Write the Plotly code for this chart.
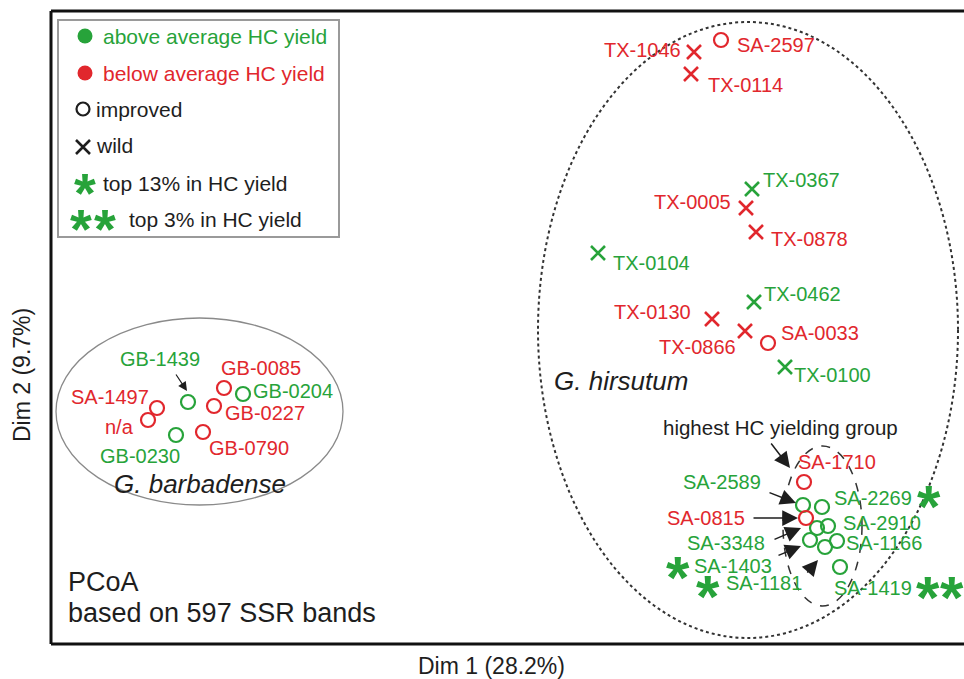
import plotly.graph_objects as go

# ---------------- data (arbitrary PCoA plot units) ----------------
names = ["TX-1046", "SA-2597", "TX-0114",
         "TX-0367", "TX-0005", "TX-0878", "TX-0104", "TX-0462", "TX-0130", "TX-0866", "SA-0033", "TX-0100",
         "GB-1439", "GB-0085", "GB-0204", "GB-0227", "SA-1497", "n/a", "GB-0230", "GB-0790",
         "SA-1710", "SA-2589", "SA-2269", "SA-0815", "SA-2910", "SA-3348", "SA-1166", "SA-1403", "SA-1181", "SA-1419"]
dim1 = [694, 721, 691,
        752, 746, 756, 598, 754, 712, 745, 768, 785,
        188, 224, 243, 214, 157, 148, 176, 203,
        804, 803, 822, 806, 828, 817, 837, 810, 825, 840]
dim2 = [52, 40, 74,
        189, 208, 232, 253, 302, 319, 331, 343, 367,
        402, 388, 394, 406, 408, 420, 435, 432,
        482, 505, 507, 518, 526, 528, 541, 540, 547, 567]
hc_yield = ["below", "below", "below",
            "above", "below", "below", "above", "above", "below", "below", "below", "above",
            "above", "below", "above", "below", "below", "below", "above", "below",
            "below", "above", "above", "below", "above", "above", "above", "above", "above", "above"]
status = ["wild", "improved", "wild",
          "wild", "wild", "wild", "wild", "wild", "wild", "wild", "improved", "wild",
          "improved", "improved", "improved", "improved", "improved", "improved", "improved", "improved",
          "improved", "improved", "improved", "improved", "improved", "improved", "improved", "improved", "improved", "improved"]
stars = {"SA-2269": 1, "SA-1403": 1, "SA-1181": 1, "SA-1419": 2}

legend_items = ["above average HC yield", "below average HC yield", "improved", "wild",
                "top 13% in HC yield", "top 3% in HC yield"]

# ---------------- styles / layout helpers ----------------
GREEN = "#27a33a"
RED = "#e1272d"
BLACK = "#1e1e1e"
FONT = "Liberation Sans, Arial, sans-serif"
W, H = 964, 679
X0, X1, Y0, Y1 = 51, 964, 11, 644   # plot frame in page pixels

# label offsets (pixels from the point) and anchor
label_pos = {
    "TX-1046": (-11, -2, "right"), "SA-2597": (14, 5, "left"), "TX-0114": (15, 11, "left"),
    "TX-0367": (9, -9, "left"), "TX-0005": (-13, -6, "right"), "TX-0878": (13, 7, "left"),
    "TX-0104": (13, 10, "left"), "TX-0462": (8, -8, "left"), "TX-0130": (-19, -7, "right"),
    "TX-0866": (-7, 16, "right"), "SA-0033": (11, -10, "left"), "TX-0100": (7, 8, "left"),
    "GB-1439": (-28, -43, "center"), "GB-0085": (-5, -20, "left"), "GB-0204": (8, -3, "left"),
    "GB-0227": (9, 7, "left"), "SA-1497": (-6, -11, "right"), "n/a": (-12, 7, "right"),
    "GB-0230": (-36, 21, "center"), "GB-0790": (4, 16, "left"),
    "SA-1710": (-8, -20, "left"), "SA-2589": (-40, -23, "right"), "SA-2269": (10, -9, "left"),
    "SA-0815": (-59, 0, "right"), "SA-2910": (13, -3, "left"), "SA-3348": (-50, 15, "right"),
    "SA-1166": (7, 2, "left"), "SA-1403": (-118, 26, "left"), "SA-1181": (-101, 36, "left"),
    "SA-1419": (-8, 21, "left"),
}
# star offsets (pixels from the point), spacing for double stars
star_pos = {"SA-2269": (107, -10), "SA-1403": (-132, 28), "SA-1181": (-117, 40), "SA-1419": (88, 21)}
STAR_GAP = 24
STAR_SIZE = 60
STAR_SHIFT = -9

# arrows: target name, head offset from point, tail offset from head, width, size
arrows = [("GB-1439", (-1, -11), (-12, -18), 1.2, 1.5),
          ("SA-1710", (-14, -14), (-20, -26), 1.5, 2.1),
          ("SA-2589", (-7, -2), (-28, -11), 1.5, 2.1),
          ("SA-0815", (-8, 0), (-46, 0), 1.5, 2.1),
          ("SA-3348", (-16, 0), (-28, 12), 1.5, 2.1),
          ("SA-1403", (-9, 6), (-24, 10), 1.5, 2.1),
          ("SA-1181", (-7, 13), (-12, 14), 1.5, 2.1)]

color_of = {"above": GREEN, "below": RED}
symbol_of = {"wild": "x-thin-open", "improved": "circle-open"}
size_of = {"wild": 14, "improved": 14}
width_of = {"wild": 2.6, "improved": 2.2}

fig = go.Figure()

for st in ["improved", "wild"]:
    for yc in ["above", "below"]:
        idx = [i for i in range(len(names)) if status[i] == st and hc_yield[i] == yc]
        if not idx:
            continue
        fig.add_trace(go.Scatter(
            x=[dim1[i] for i in idx], y=[dim2[i] for i in idx],
            mode="markers", showlegend=False, hoverinfo="text",
            text=[names[i] for i in idx],
            marker=dict(symbol=symbol_of[st], size=size_of[st], color=color_of[yc],
                        line=dict(width=width_of[st], color=color_of[yc]))))

annotations = []
pt = {n: (dim1[i], dim2[i]) for i, n in enumerate(names)}
for i, n in enumerate(names):
    dx, dy, anc = label_pos[n]
    annotations.append(dict(x=dim1[i], y=dim2[i], xshift=dx, yshift=-dy, text=n, showarrow=False,
                            xanchor=anc, yanchor="middle",
                            font=dict(family=FONT, size=20, color=color_of[hc_yield[i]])))

# stars
for n, k in stars.items():
    sx, sy = star_pos[n]
    for j in range(k):
        annotations.append(dict(x=pt[n][0], y=pt[n][1], xshift=sx + j * STAR_GAP, yshift=-sy + STAR_SHIFT,
                                text="<b>*</b>", showarrow=False, xanchor="center", yanchor="middle",
                                font=dict(family=FONT, size=STAR_SIZE, color=GREEN)))

# arrows
for n, (hx, hy), (tx, ty), w, s in arrows:
    annotations.append(dict(x=pt[n][0] + hx, y=pt[n][1] + hy, ax=tx, ay=ty, axref="pixel", ayref="pixel",
                            text="", showarrow=True, arrowhead=2, arrowsize=s, arrowwidth=w,
                            arrowcolor=BLACK, standoff=0))

# free texts
def txt(x, y, s, size=20, anchor="left", color=BLACK, **kw):
    d = dict(x=x, y=y, text=s, showarrow=False, xanchor=anchor, yanchor="middle",
             font=dict(family=FONT, size=size, color=color))
    d.update(kw)
    annotations.append(d)

def paper_txt(px, py, s, size, **kw):
    txt((px - X0) / (X1 - X0), (Y1 - py) / (Y1 - Y0), s, size, xref="paper", yref="paper", **kw)

txt(661, 427, "highest HC yielding group", 20.5)
txt(552, 381, "<i>G. hirsutum</i>", 26)
txt(200, 484, "<i>G. barbadense</i>", 26, anchor="center")
txt(66, 582, "PCoA", 27)
txt(66, 613, "based on 597 SSR bands", 27)

# legend entries
leg_y = [36, 73, 109, 145, 183, 219]
leg_x = [101, 101, 94, 94, 101, 127]
leg_col = [GREEN, RED, BLACK, BLACK, BLACK, BLACK]
for t, x, y, c in zip(legend_items, leg_x, leg_y, leg_col):
    txt(x, y, t, 21, color=c)
# legend glyphs
fig.add_trace(go.Scatter(x=[85, 85], y=[leg_y[0], leg_y[1]], mode="markers", showlegend=False, hoverinfo="skip",
                         marker=dict(symbol="circle", size=15, color=[GREEN, RED])))
fig.add_trace(go.Scatter(x=[83], y=[leg_y[2]], mode="markers", showlegend=False, hoverinfo="skip",
                         marker=dict(symbol="circle-open", size=13, color=BLACK, line=dict(width=2.2, color=BLACK))))
fig.add_trace(go.Scatter(x=[83], y=[leg_y[3] + 2], mode="markers", showlegend=False, hoverinfo="skip",
                         marker=dict(symbol="x-thin-open", size=14, color=BLACK, line=dict(width=2.6, color=BLACK))))
for x, y in [(85, leg_y[4]), (81, leg_y[5]), (105, leg_y[5])]:
    txt(x, y, "<b>*</b>", 56, anchor="center", color=GREEN, yshift=STAR_SHIFT)

# axis titles
paper_txt(491, 666, "Dim 1 (28.2%)", 23, anchor="center")
paper_txt(22, 375, "Dim 2 (9.7%)", 23, anchor="center", textangle=-90)

shapes = [
    # G. barbadense ellipse
    dict(type="circle", xref="x", yref="y", x0=56, x1=343, y0=318, y1=505,
         line=dict(color="#8a8a8a", width=1.3), layer="below"),
    # G. hirsutum ellipse
    dict(type="circle", xref="x", yref="y", x0=538, x1=958, y0=22, y1=638,
         line=dict(color="#333333", width=2, dash="dot"), layer="below"),
    # highest yielding group ellipse
    dict(type="circle", xref="x", yref="y", x0=783, x1=862, y0=446, y1=606,
         line=dict(color="#333333", width=1.5, dash="dash"), layer="below"),
    # legend box
    dict(type="rect", xref="x", yref="y", x0=58, x1=339, y0=20, y1=237,
         line=dict(color="#9a9a9a", width=2), layer="below"),
    # frame
    dict(type="line", xref="paper", yref="paper", x0=0, x1=0, y0=0, y1=1, line=dict(color="#111", width=3)),
    dict(type="line", xref="paper", yref="paper", x0=0, x1=1.01, y0=1, y1=1, line=dict(color="#111", width=3)),
    dict(type="line", xref="paper", yref="paper", x0=0, x1=1.01, y0=0, y1=0, line=dict(color="#111", width=3)),
]

fig.update_layout(
    width=W, height=H,
    margin=dict(l=X0, r=W - X1, t=Y0, b=H - Y1),
    paper_bgcolor="white", plot_bgcolor="white",
    xaxis=dict(range=[X0, X1], visible=False, fixedrange=True),
    yaxis=dict(range=[Y1, Y0], visible=False, fixedrange=True),
    annotations=annotations, shapes=shapes, showlegend=False,
)

fig.write_html("out.html", config={"displayModeBar": False},
               post_script="document.body.style.margin='0';document.body.style.overflow='hidden';")
